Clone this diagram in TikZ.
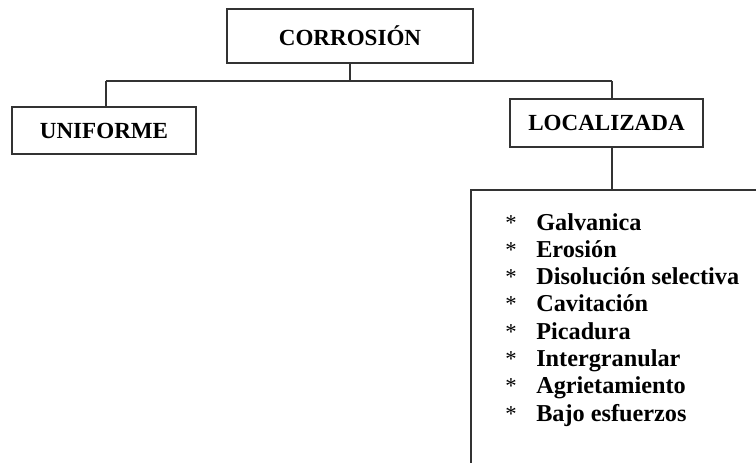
\documentclass[tikz,border=0pt]{standalone}
\usepackage{fontspec}
\setmainfont{Liberation Serif}
\usetikzlibrary{calc}
\tikzset{
  caja/.style={draw=black!80, line width=1.3pt, inner sep=0pt, font=\fontsize{17.3}{20}\selectfont\bfseries},
  linea/.style={draw=black!80, line width=1.3pt},
  tipo/.style={anchor=base west, inner sep=0pt, font=\fontsize{18.2}{21}\selectfont\bfseries},
  ast/.style={anchor=base, inner sep=0pt, font=\fontsize{17}{20}\selectfont},
}

\begin{document}
\begin{tikzpicture}[x=0.75pt, y=-0.75pt]
		%%%%% START %%%%%
		\useasboundingbox (0,0) rectangle (756,462);
		\clip (0,0) rectangle (756,462);
		
		\node[caja, minimum width=184.5pt, minimum height=40.5pt] (corrosion) at (350,36) {CORROSIÓN};
		\node[caja, minimum width=138pt, minimum height=35.25pt] (uniforme) at (104,130.5) {UNIFORME};
		\node[caja, minimum width=144.75pt, minimum height=36pt] (localizada) at (606.5,123) {LOCALIZADA};
		\node[caja, anchor=north west, minimum width=300pt, minimum height=240pt] (tipos) at (470,189) {};
		
		\coordinate (ju) at (106,81);
		\coordinate (jl) at (612,81);
		
		\draw[linea] (corrosion.south) -- (corrosion.south |- ju);
		\draw[linea] (ju) -- (jl);
		\draw[linea] (ju) -- (ju |- uniforme.north);
		\draw[linea] (jl) -- (jl |- localizada.north);
		\draw[linea] (jl |- localizada.south) -- (jl |- tipos.north);
		
		\foreach \t [count=\i] in {Galvanica, Erosión, Disolución selectiva, Cavitación, Picadura, Intergranular, Agrietamiento, Bajo esfuerzos}{
			\node[ast] (ast\i) at (511,{230+27.3*(\i-1)}) {*};
			\node[tipo] (tipo\i) at (536,{230+27.3*(\i-1)}) {\t};
		}
		
		%%%%% END %%%%%
\end{tikzpicture}
\end{document}
